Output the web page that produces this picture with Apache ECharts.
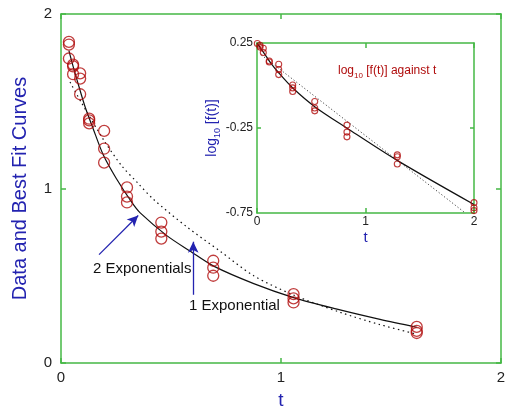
<!DOCTYPE html>
<html>
<head>
<meta charset="utf-8">
<script src="https://cdn.jsdelivr.net/npm/echarts@6/dist/echarts.min.js"></script>
<style>
  html, body { margin: 0; padding: 0; background: #fff; }
  #chart { width: 506px; height: 409px; }
</style>
</head>
<body>
<div id="chart"></div>
<script>
// main plot: data points f(t)
var tData = [0.036, 0.036, 0.036, 0.055, 0.055, 0.055, 0.087, 0.087, 0.087,
             0.128, 0.128, 0.128, 0.196, 0.196, 0.196, 0.30, 0.30, 0.30,
             0.456, 0.456, 0.456, 0.692, 0.692, 0.692, 1.057, 1.057, 1.057,
             1.617, 1.617, 1.617];
var fData = [1.84, 1.825, 1.745, 1.71, 1.70, 1.655, 1.66, 1.63, 1.54,
             1.40, 1.39, 1.373, 1.33, 1.228, 1.148, 1.006, 0.954, 0.92,
             0.805, 0.753, 0.713, 0.586, 0.546, 0.50, 0.395, 0.37, 0.347,
             0.207, 0.184, 0.172];

// best fit curves
var tFit2 = [0.036, 0.055, 0.071, 0.109, 0.147, 0.193, 0.25, 0.322, 0.36, 0.481,
             0.588, 0.694, 0.876, 1.057, 1.25, 1.45, 1.617];
var fFit2 = [1.79, 1.70, 1.63, 1.47, 1.34, 1.19, 1.06, 0.92, 0.86, 0.73,
             0.64, 0.555, 0.455, 0.375, 0.31, 0.25, 0.205];
var tFit1 = [0.041, 0.094, 0.193, 0.276, 0.35, 0.421, 0.572, 0.724, 0.876,
             1.057, 1.27, 1.45, 1.617];
var fFit1 = [1.61, 1.49, 1.28, 1.13, 1.03, 0.937, 0.78, 0.64, 0.50,
             0.39, 0.29, 0.22, 0.165];

// inset: log10 f(t)
var tLog = [0.003, 0.028, 0.028, 0.058, 0.058, 0.113, 0.113, 0.2, 0.2, 0.2,
            0.329, 0.329, 0.329, 0.532, 0.532, 0.532, 0.829, 0.829, 0.829,
            1.293, 1.293, 1.293, 2.0, 2.0, 2.0];
var logF = [0.247, 0.236, 0.226, 0.219, 0.194, 0.144, 0.138, 0.125, 0.094, 0.064,
            0.003, -0.014, -0.035, -0.094, -0.132, -0.149, -0.233, -0.274, -0.302,
            -0.408, -0.419, -0.462, -0.689, -0.719, -0.736];
var tLogFit2 = [0, 0.03, 0.06, 0.12, 0.2, 0.335, 0.535, 0.827, 1.288, 2.0];
var logFit2 = [0.25, 0.222, 0.195, 0.138, 0.075, -0.018, -0.126, -0.25, -0.439, -0.70];
var tLogFit1 = [0.04, 1.92];
var logFit1 = [0.18, -0.75];

var insetYTicks = [-0.75, -0.25, 0.25];

function pairs(xs, ys) {
    return xs.map(function (x, i) { return [x, ys[i]]; });
}

var FONT = 'Liberation Sans, Arial, sans-serif';
var GREEN = '#45b845';
var RED = '#b00c0c';
var BLUE = '#2323b0';

function frameAxis(grid, pos, extra) {
    var a = {
        gridIndex: grid,
        position: pos,
        type: 'value',
        axisLine: { show: true, onZero: false, lineStyle: { color: GREEN, width: 1.5 } },
        axisTick: { show: true, inside: true, length: 5, lineStyle: { color: GREEN, width: 1.5 } },
        axisLabel: { show: false },
        splitLine: { show: false }
    };
    for (var k in extra) a[k] = extra[k];
    return a;
}

var myChart = echarts.init(document.getElementById('chart'));

var option = {
    animation: false,
    backgroundColor: '#fff',
    textStyle: { fontFamily: FONT },
    grid: [
        { left: 61, right: 5, top: 14, bottom: 46, outerBoundsMode: 'none' },
        { left: 257, right: 32, top: 43, bottom: 196, outerBoundsMode: 'none' }
    ],
    xAxis: [
        frameAxis(0, 'bottom', {
            min: 0, max: 2, interval: 1,
            axisLabel: { show: true, margin: 7, fontSize: 15, color: '#222', fontFamily: FONT },
            name: 't', nameLocation: 'middle', nameGap: 28,
            nameTextStyle: { color: BLUE, fontSize: 19, fontFamily: FONT }
        }),
        frameAxis(0, 'top', { min: 0, max: 2, interval: 1 }),
        frameAxis(1, 'bottom', {
            min: 0, max: 2, interval: 1,
            axisLabel: { show: true, margin: 3, fontSize: 12, color: '#222', fontFamily: FONT },
            name: 't', nameLocation: 'middle', nameGap: 17,
            nameTextStyle: { color: BLUE, fontSize: 15, fontFamily: FONT }
        }),
        frameAxis(1, 'top', { min: 0, max: 2, interval: 1 })
    ],
    yAxis: [
        frameAxis(0, 'left', {
            min: 0, max: 2, interval: 1,
            axisLabel: { show: true, margin: 9, fontSize: 15, color: '#222', fontFamily: FONT },
            name: 'Data and Best Fit Curves', nameLocation: 'middle', nameGap: 31, nameRotate: 90,
            nameTextStyle: { color: BLUE, fontSize: 20, fontFamily: FONT }
        }),
        frameAxis(0, 'right', { min: 0, max: 2, interval: 1 }),
        frameAxis(1, 'left', {
            min: -0.75, max: 0.25,
            axisLabel: { show: true, margin: 4, fontSize: 12, color: '#222', fontFamily: FONT,
                         customValues: insetYTicks },
            axisTick: { show: true, inside: true, length: 4, customValues: [-0.25],
                        lineStyle: { color: GREEN, width: 1.5 } },
            name: '{n|log}{s|10}{n| [f(t)]}', nameLocation: 'middle', nameGap: 31, nameRotate: 90,
            nameTextStyle: {
                color: BLUE, fontFamily: FONT,
                rich: {
                    n: { fontSize: 14, color: BLUE, fontFamily: FONT, lineHeight: 20, verticalAlign: 'middle' },
                    s: { fontSize: 9, color: BLUE, fontFamily: FONT, lineHeight: 12, verticalAlign: 'bottom' }
                }
            }
        }),
        frameAxis(1, 'right', {
            min: -0.75, max: 0.25,
            axisTick: { show: true, inside: true, length: 4, customValues: [-0.25],
                        lineStyle: { color: GREEN, width: 1.5 } }
        })
    ],
    graphic: [
        { type: 'text', left: 93, top: 261, z: 100,
          style: { text: '2 Exponentials', fontSize: 15, fill: '#111', fontFamily: FONT } },
        { type: 'text', left: 189, top: 298, z: 100,
          style: { text: '1 Exponential', fontSize: 15, fill: '#111', fontFamily: FONT } },
        { type: 'text', left: 338, top: 65, z: 100,
          style: {
              text: '{n|log}{s|10}{n| [f(t)] against t}',
              fontFamily: FONT,
              rich: {
                  n: { fontSize: 12, fill: RED, fontFamily: FONT, lineHeight: 18, verticalAlign: 'middle' },
                  s: { fontSize: 8, fill: RED, fontFamily: FONT, lineHeight: 11, verticalAlign: 'bottom' }
              }
          } }
    ],
    series: [
        {
            name: '1 Exponential', type: 'line', xAxisIndex: 0, yAxisIndex: 0,
            data: pairs(tFit1, fFit1), smooth: 0.3, showSymbol: false, silent: true,
            lineStyle: { color: '#111', width: 1.2, type: [1.5, 3.5] },
            markLine: {
                silent: true, symbol: ['none', 'arrow'], symbolSize: [8, 11],
                label: { show: false },
                lineStyle: { color: BLUE, width: 1.3, type: 'solid' },
                data: [
                    [{ coord: [0.173, 0.621] }, { coord: [0.351, 0.845] }],
                    [{ coord: [0.601, 0.391] }, { coord: [0.601, 0.695] }]
                ]
            }
        },
        {
            name: '2 Exponentials', type: 'line', xAxisIndex: 0, yAxisIndex: 0,
            data: pairs(tFit2, fFit2), smooth: 0.3, showSymbol: false, silent: true,
            lineStyle: { color: '#111', width: 1.2 }
        },
        {
            name: 'Data', type: 'scatter', xAxisIndex: 0, yAxisIndex: 0,
            data: pairs(tData, fData), symbol: 'circle', symbolSize: 11, z: 5,
            itemStyle: { color: 'rgba(0,0,0,0)', borderColor: RED, borderWidth: 1.3 }
        },
        {
            name: 'log 1 Exponential', type: 'line', xAxisIndex: 2, yAxisIndex: 2,
            data: pairs(tLogFit1, logFit1), showSymbol: false, silent: true,
            lineStyle: { color: '#444', width: 1, type: [1.2, 2.2] }
        },
        {
            name: 'log 2 Exponentials', type: 'line', xAxisIndex: 2, yAxisIndex: 2,
            data: pairs(tLogFit2, logFit2), smooth: 0.3, showSymbol: false, silent: true,
            lineStyle: { color: '#111', width: 1.2 }
        },
        {
            name: 'log Data', type: 'scatter', xAxisIndex: 2, yAxisIndex: 2,
            data: pairs(tLog, logF), symbol: 'circle', symbolSize: 6, z: 5,
            itemStyle: { color: 'rgba(0,0,0,0)', borderColor: RED, borderWidth: 1.1 }
        }
    ]
};
myChart.setOption(option);
</script>
</body>
</html>
